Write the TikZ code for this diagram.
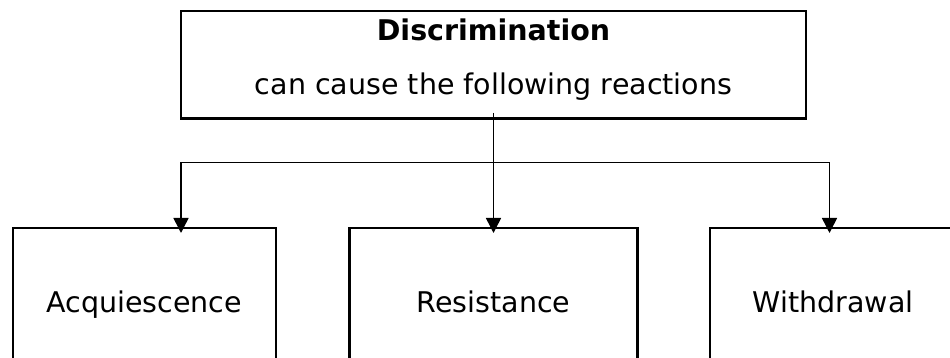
\documentclass[tikz,border=0pt]{standalone}
\usepackage{fontspec}
\setmainfont{DejaVu Sans}
\usetikzlibrary{arrows.meta}

\begin{document}
\begin{tikzpicture}[x=1pt, y=-1pt,
  every node/.style={font=\fontsize{28.5}{34}\selectfont, inner sep=0pt, outer sep=0pt},
  box/.style={draw, line width=2.2pt},
  reaction/.style={box, text height=20.6pt, text depth=0pt, minimum height=148pt},
  conn/.style={line width=1.5pt, -{Triangle[width=15pt,length=15pt]}, shorten >=-5.3pt}
]
  % page and background
  \useasboundingbox (0,0) rectangle (950,358);
  \fill[white] (0,0) rectangle (950,358);

  % heading box with its two lines of text
  \node[box, minimum width=625pt, minimum height=107.5pt] (top) at (493.5,64.75) {};
  \node[anchor=base] (ttl) at (493.5,41) {\bfseries Discrimination};
  \node[anchor=base] (sub) at (493.5,95) {can cause the following reactions};

  % the three reactions
  \node[reaction, minimum width=263.3pt] (acq) at (144.35,301.7) {Acquiescence};
  \node[reaction, minimum width=288pt]   (res) at (493.5,301.7) {Resistance};
  \node[reaction, minimum width=246pt]   (wdr) at (833,301.7) {Withdrawal};

  % branching connectors
  \coordinate (j) at (493.5,162.3);
  \draw[conn, shorten <=-5.5pt] (top.south) -- (res.north);
  \draw[conn] (j) -| (acq.north -| top.west);
  \draw[conn] (j) -| ([xshift=-3.5pt]wdr.north);
\end{tikzpicture}
\end{document}
